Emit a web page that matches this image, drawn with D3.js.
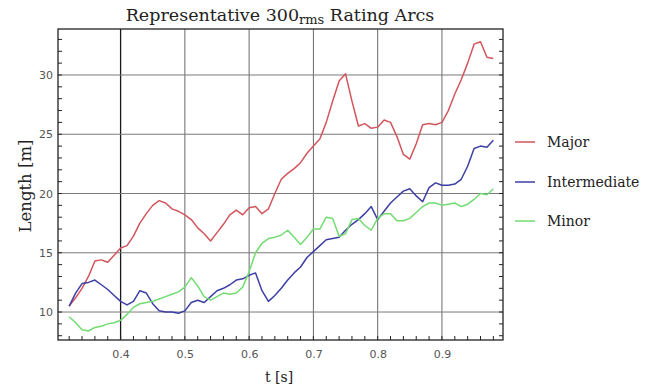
<!DOCTYPE html>
<html>
<head>
<meta charset="utf-8">
<script src="https://cdn.jsdelivr.net/npm/d3@7"></script>
<style>
  body { margin: 0; background: #fff; }
  svg { display: block; }
</style>
</head>
<body>
<svg></svg>
<script>
const width = 669
const height = 390
const marge = {top: 29, bottom: 50, left: 58, right: 166}

// data
const times = [0.32, 0.33, 0.34, 0.35, 0.36, 0.37, 0.38, 0.39, 0.40, 0.41,
  0.42, 0.43, 0.44, 0.45, 0.46, 0.47, 0.48, 0.49, 0.50, 0.51,
  0.52, 0.53, 0.54, 0.55, 0.56, 0.57, 0.58, 0.59, 0.60, 0.61,
  0.62, 0.63, 0.64, 0.65, 0.66, 0.67, 0.68, 0.69, 0.70, 0.71,
  0.72, 0.73, 0.74, 0.75, 0.76, 0.77, 0.78, 0.79, 0.80, 0.81,
  0.82, 0.83, 0.84, 0.85, 0.86, 0.87, 0.88, 0.89, 0.90, 0.91,
  0.92, 0.93, 0.94, 0.95, 0.96, 0.97, 0.98]

const major = [10.5, 11.2, 12.0, 13.0, 14.3, 14.4, 14.2, 14.8, 15.4, 15.6,
  16.4, 17.5, 18.3, 19.0, 19.4, 19.2, 18.7, 18.5, 18.2, 17.8,
  17.1, 16.6, 16.0, 16.7, 17.4, 18.2, 18.6, 18.2, 18.8, 18.9,
  18.3, 18.7, 20.0, 21.2, 21.7, 22.1, 22.6, 23.4, 24.0, 24.6,
  26.0, 27.8, 29.5, 30.1, 27.8, 25.7, 25.9, 25.5, 25.6, 26.2,
  26.0, 24.8, 23.3, 22.9, 24.2, 25.8, 25.9, 25.8, 26.0, 27.0,
  28.4, 29.6, 31.0, 32.6, 32.8, 31.5, 31.4]

const intermediate = [10.5, 11.6, 12.4, 12.5, 12.7, 12.3, 11.9, 11.4, 10.9, 10.6,
  10.9, 11.8, 11.6, 10.7, 10.1, 10.0, 10.0, 9.9, 10.1, 10.8,
  11.0, 10.8, 11.3, 11.8, 12.0, 12.3, 12.7, 12.8, 13.1, 13.3,
  11.8, 10.9, 11.4, 12.0, 12.7, 13.3, 13.8, 14.6, 15.1, 15.6,
  16.1, 16.2, 16.3, 16.9, 17.4, 17.8, 18.3, 18.9, 17.8, 18.5,
  19.2, 19.7, 20.2, 20.4, 19.8, 19.3, 20.5, 20.9, 20.7, 20.7,
  20.8, 21.2, 22.3, 23.8, 24.0, 23.9, 24.5]

const minor = [9.6, 9.1, 8.5, 8.4, 8.7, 8.8, 9.0, 9.1, 9.3, 9.8,
  10.4, 10.7, 10.8, 10.9, 11.1, 11.3, 11.5, 11.7, 12.1, 12.9,
  12.2, 11.3, 11.0, 11.3, 11.6, 11.5, 11.6, 12.1, 13.4, 15.0,
  15.8, 16.2, 16.3, 16.5, 16.9, 16.3, 15.7, 16.3, 17.0, 17.0,
  18.0, 17.9, 16.4, 16.6, 17.8, 17.9, 17.3, 16.9, 17.9, 18.3,
  18.3, 17.7, 17.7, 17.9, 18.4, 18.9, 19.2, 19.2, 19.0, 19.1,
  19.2, 18.9, 19.1, 19.5, 20.0, 19.9, 20.4]

const seriesNames = ['Major', 'Intermediate', 'Minor']
const seriesColors = ['#d2555d', '#3d3fa6', '#72dc72']
const xTicks = [0.4, 0.5, 0.6, 0.7, 0.8, 0.9]
const yTicks = [10, 15, 20, 25, 30]

const series = [major, intermediate, minor].map(function (vals, i) {
  return {name: seriesNames[i], color: seriesColors[i], values: vals.map(function (v, j) { return [times[j], v] })}
})

const svg = d3.select('svg').attr('width', width).attr('height', height)
  .style('font-family', '"DejaVu Serif", serif')

const iw = width - marge.left - marge.right
const ih = height - marge.top - marge.bottom

const x = d3.scaleLinear().domain([0.3026, 0.995]).range([0, iw])
const y = d3.scaleLinear().domain([7.64, 33.88]).range([ih, 0])

const g = svg.append('g').attr('transform', 'translate(' + marge.left + ',' + marge.top + ')')

// grid
g.append('g').selectAll('line').data(xTicks).enter().append('line')
  .attr('x1', d => x(d)).attr('x2', d => x(d)).attr('y1', 0).attr('y2', ih)
  .attr('stroke', d => d === 0.4 ? '#1a1a1a' : '#6a6a6a').attr('stroke-width', d => d === 0.4 ? 1.3 : 1)
g.append('g').selectAll('line').data(yTicks).enter().append('line')
  .attr('x1', 0).attr('x2', iw).attr('y1', d => y(d)).attr('y2', d => y(d))
  .attr('stroke', '#7a7a7a').attr('stroke-width', 1)

// minor ticks (pointing inward)
const xMinor = d3.range(0.32, 0.99, 0.02)
const yMinor = d3.range(8, 34, 1)
g.append('g').selectAll('line').data(xMinor).enter().append('line')
  .attr('x1', d => x(d)).attr('x2', d => x(d)).attr('y1', ih).attr('y2', ih - 4)
  .attr('stroke', '#222')
g.append('g').selectAll('line').data(yMinor).enter().append('line')
  .attr('x1', 0).attr('x2', 4).attr('y1', d => y(d)).attr('y2', d => y(d))
  .attr('stroke', '#222')
g.append('g').selectAll('line').data(yMinor).enter().append('line')
  .attr('x1', iw).attr('x2', iw - 4).attr('y1', d => y(d)).attr('y2', d => y(d))
  .attr('stroke', '#222')

// axes labels
const xAxis = g.append('g').attr('transform', 'translate(0,' + ih + ')')
  .call(d3.axisBottom(x).tickValues(xTicks).tickSize(0).tickPadding(10).tickFormat(d3.format('.1f')))
const yAxis = g.append('g')
  .call(d3.axisLeft(y).tickValues(yTicks).tickSize(0).tickPadding(5))
;[xAxis, yAxis].forEach(function (a) {
  a.select('.domain').remove()
  a.selectAll('text').attr('fill', '#555').style('font-family', '"DejaVu Sans", sans-serif').style('font-size', '11px')
})

// lines
const line = d3.line().x(d => x(d[0])).y(d => y(d[1]))
g.append('g').selectAll('path').data(series).enter().append('path')
  .attr('d', d => line(d.values))
  .attr('fill', 'none')
  .attr('stroke', d => d.color)
  .attr('stroke-width', 1.5)
  .attr('stroke-linejoin', 'round')

// frame
g.append('rect').attr('width', iw).attr('height', ih)
  .attr('fill', 'none').attr('stroke', '#222').attr('stroke-width', 1.3)

// title
const title = svg.append('text').attr('x', 280).attr('y', 21).attr('text-anchor', 'middle')
  .style('font-size', '17.5px').attr('fill', '#222')
title.append('tspan').text('Representative 300')
title.append('tspan').attr('dy', 3).style('font-size', '13px').text('rms')
title.append('tspan').attr('dy', -3).text(' Rating Arcs')

svg.append('text').attr('transform', 'translate(31,186) rotate(-90)').attr('text-anchor', 'middle')
  .style('font-size', '16.5px').attr('fill', '#222').text('Length [m]')
svg.append('text').attr('x', 279).attr('y', 382).attr('text-anchor', 'middle')
  .style('font-size', '14px').attr('fill', '#222').text('t [s]')

// legend
const legend = svg.append('g').selectAll('g').data(series).enter().append('g')
  .attr('transform', (d, i) => 'translate(515,' + [142, 182, 221][i] + ')')
legend.append('line').attr('x1', 0).attr('x2', 20).attr('stroke', d => d.color).attr('stroke-width', 1.5)
legend.append('text').attr('x', 32).attr('dy', '0.35em').style('font-size', '14px').attr('fill', '#222').text(d => d.name)
</script>
</body>
</html>
